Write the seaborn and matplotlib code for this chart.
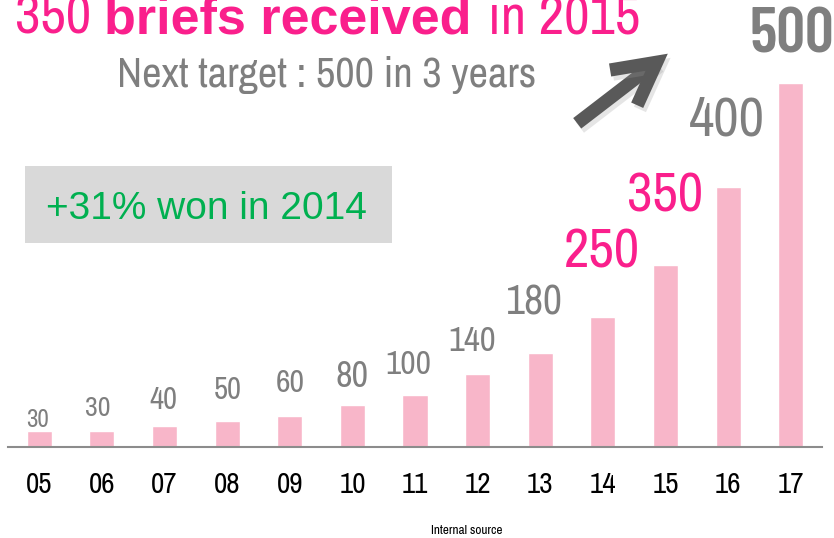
import matplotlib
matplotlib.use("Agg")
import matplotlib.pyplot as plt
import matplotlib.patheffects as pe
from matplotlib.patches import FancyArrowPatch, Rectangle
import seaborn as sns

# data
years = ["05", "06", "07", "08", "09", "10", "11", "12", "13", "14", "15", "16", "17"]
bar_heights = [30, 30, 40, 50, 60, 80, 100, 140, 180, 250, 350, 500, 700]
bar_labels = ["30", "30", "40", "50", "60", "80", "100", "140", "180", "250", "350", "400", "500"]

# label styling (offsets in pixels from the bar top)
label_dx = [-2, -4, -1, 1, 0, 0, -7, -5, -6, -1, 0, -1, 1]
label_dy = [12, 23, 26, 31, 33, 29, 30, 33, 51, 65, 69, 66, 47]
label_size = [18, 20, 22, 22, 23, 26, 24, 25, 30, 40, 40, 40, 46]
GRAY = "#7f7f7f"
PINK = "#fa1f8c"
label_color = [GRAY] * 9 + [PINK, PINK, GRAY, GRAY]
label_weight = ["normal"] * 12 + ["bold"]

NARROW = "Archivo Narrow"
BOLD_NARROW = "Barlow Condensed"
W, H = 834, 538

sns.set_style("white")
plt.rcParams["font.family"] = [NARROW, "DejaVu Sans"]

fig = plt.figure(figsize=(W / 100, H / 100), dpi=100)
ax = fig.add_axes([8 / W, (H - 447) / H, 814 / W, 447 / H])

sns.barplot(x=years, y=bar_heights, color="#f8b6c9", width=0.4, saturation=1, ax=ax)
ax.set_xlim(-0.5, len(years) - 0.5)
ax.set_ylim(0, 447 / 0.52)
ax.set_ylabel("")
ax.set_xlabel("")
ax.set_yticks([])
for side in ["left", "right", "top"]:
    ax.spines[side].set_visible(False)
ax.spines["bottom"].set_color("#8c8c8c")
ax.spines["bottom"].set_linewidth(1.5)

ax.tick_params(axis="x", which="major", length=0, pad=17, labelsize=21, labelcolor="black")
ax.set_xticks([i - 0.5 for i in range(len(years) + 1)], minor=True)
ax.tick_params(axis="x", which="minor", length=9, width=1.2, color="#8c8c8c", direction="out")

for i, (h, lab) in enumerate(zip(bar_heights, bar_labels)):
    fam = [BOLD_NARROW] if label_weight[i] == "bold" else [NARROW]
    ax.annotate(lab, xy=(i, h), xytext=(label_dx[i], label_dy[i]), textcoords="offset pixels",
                ha="center", va="center", fontsize=label_size[i], color=label_color[i],
                fontweight="semibold" if label_weight[i] == "bold" else "normal", family=fam)


def px(x, y):
    return x / W, 1 - y / H


# title, three runs laid out one after another
renderer = fig.canvas.get_renderer()
runs = [("350", dict(fontsize=40, family=[NARROW]), 0),
        ("briefs received", dict(fontsize=37.5, fontweight="bold", family=["Liberation Sans"]), 13),
        ("in 2015", dict(fontsize=40, family=[NARROW]), 16)]
x = 15
for txt, kw, gap in runs:
    x += gap
    t = fig.text(*px(x, 34), txt, color=PINK, va="baseline", ha="left", **kw)
    x = t.get_window_extent(renderer).x1

fig.text(*px(327, 87), "Next target : 500 in 3 years", fontsize=30.5, color=GRAY,
         va="baseline", ha="center")

# grey box with the green note
fig.add_artist(Rectangle(px(25, 243), 367 / W, 77 / H, transform=fig.transFigure,
                         facecolor="#d9d9d9", edgecolor="none"))
fig.text(*px(206, 209), "+31% won in 2014", fontsize=28, color="#00b050", va="center",
         ha="center", family=["Liberation Sans", "DejaVu Sans"])

arrow = FancyArrowPatch(px(575, 125), px(670, 52), transform=fig.transFigure,
                        arrowstyle="->,head_length=30,head_width=16", mutation_scale=1,
                        color="#595959", lw=9.5, capstyle="butt", joinstyle="miter")
arrow.set_path_effects([pe.SimpleLineShadow(offset=(2, -3), shadow_color="#999999", alpha=0.25),
                        pe.Normal()])
fig.add_artist(arrow)

fig.text(*px(467, 531), "Internal source", fontsize=9.5, color="black", ha="center", va="center")

fig.savefig("out.png", dpi=100)
